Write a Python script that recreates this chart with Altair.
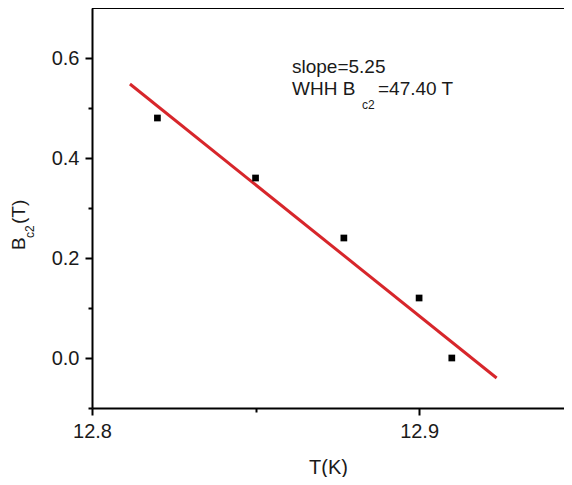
import altair as alt
import pandas as pd

# measured points
temp_k = [12.82, 12.85, 12.877, 12.90, 12.91]
bc2_t = [0.48, 0.36, 0.24, 0.12, 0.0]

# linear fit end points (slope = 5.25)
fit_t = [12.8116, 12.9237]
fit_b = [0.548, -0.04]

y_ticks = [-0.1, 0.0, 0.1, 0.2, 0.3, 0.4, 0.5, 0.6]
x_ticks = [12.8, 12.85, 12.9]

W, H = 472, 400
FONT = "Liberation Sans"
INK = "#1a1a1a"

pts = pd.DataFrame({"T": temp_k, "B": bc2_t})
fit = pd.DataFrame({"T": fit_t, "B": fit_b})
one = pd.DataFrame({"k": [0]})

x_scale = alt.Scale(domain=[12.8, 12.9443], nice=False, zero=False)
y_scale = alt.Scale(domain=[-0.1, 0.7], nice=False, zero=False)

x_axis = alt.Axis(
    values=x_ticks, title="T(K)",
    labelExpr="round(datum.value*100) % 10 == 0 ? format(datum.value, '.1f') : ''",
    tickSize={"condition": {"test": "round(datum.value*100) % 10 == 0", "value": 7}, "value": 4},
    labelPadding=6, titlePadding=16, labelFlush=False,
)
y_axis = alt.Axis(
    values=y_ticks, title=None,
    labelExpr="abs(round(datum.value*10)) % 2 == 0 ? format(datum.value, '.1f') : ''",
    tickSize={"condition": {"test": "abs(round(datum.value*10)) % 2 == 0", "value": 7}, "value": 4},
    labelPadding=6,
)

fit_line = alt.Chart(fit).mark_line(color="#d7262b", strokeWidth=3, clip=True).encode(
    x=alt.X("T:Q", scale=x_scale, axis=x_axis),
    y=alt.Y("B:Q", scale=y_scale, axis=y_axis),
)

points = alt.Chart(pts).mark_point(shape="square", filled=True, color="black", opacity=1, size=45).encode(
    x=alt.X("T:Q", scale=x_scale),
    y=alt.Y("B:Q", scale=y_scale),
)

top_border = alt.Chart(one).mark_rule(color="black", strokeWidth=2).encode(
    x=alt.value(0), x2=alt.value(W), y=alt.value(0)
)


def label(txt, x, y, size=19, angle=0):
    return alt.Chart(one).mark_text(
        text=txt, font=FONT, fontSize=size, color=INK, align="left",
        baseline="alphabetic", angle=angle,
    ).encode(x=alt.value(x), y=alt.value(y))


notes = [
    label("slope=5.25", 200, 65),
    label("WHH B", 200, 87),
    label("c2", 270, 101, size=12),
    label("=47.40 T", 286, 87),
    # rotated y title B_c2(T)
    label("B", -67, 242, size=19, angle=270),
    label("c2", -58, 230, size=12, angle=270),
    label("(T)", -67, 216, size=19, angle=270),
]

chart = alt.layer(fit_line, points, top_border, *notes).properties(
    width=W, height=H,
    autosize=alt.AutoSizeParams(type="none"),
    padding={"left": 84, "top": 0, "right": 0, "bottom": 69},
).configure(background="white").configure_view(stroke=None).configure_axis(
    domainColor="black", domainWidth=2, tickColor="black", tickWidth=2,
    labelFont=FONT, labelFontSize=20, labelColor=INK,
    titleFont=FONT, titleFontSize=20, titleFontWeight="normal", titleColor=INK,
    grid=False,
)

chart.save("out.html", embed_options={"renderer": "svg", "actions": False})
